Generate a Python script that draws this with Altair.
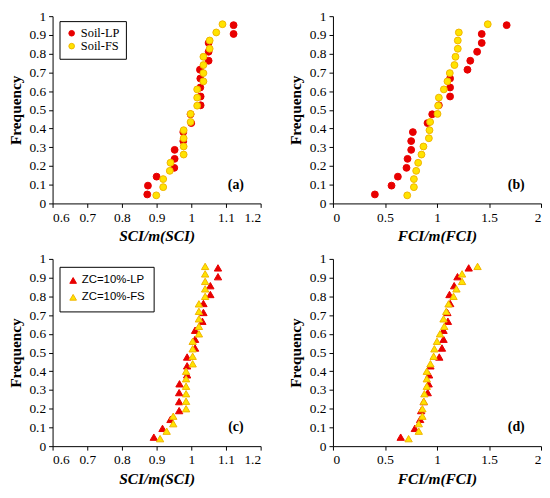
import altair as alt
import pandas as pd

# ---------------- data ----------------
freq_lp = [0.048, 0.095, 0.143, 0.190, 0.238, 0.286, 0.333, 0.381, 0.429, 0.476,
           0.524, 0.571, 0.619, 0.667, 0.714, 0.762, 0.810, 0.857, 0.905, 0.952]
freq_fs22 = [0.043, 0.087, 0.130, 0.174, 0.217, 0.261, 0.304, 0.348, 0.391, 0.435, 0.478,
             0.522, 0.565, 0.609, 0.652, 0.696, 0.739, 0.783, 0.826, 0.870, 0.913, 0.957]
freq_fs24 = [0.04, 0.08, 0.12, 0.16, 0.20, 0.24, 0.28, 0.32, 0.36, 0.40, 0.44, 0.48,
             0.52, 0.56, 0.60, 0.64, 0.68, 0.72, 0.76, 0.80, 0.84, 0.88, 0.92, 0.96]

a_lp = [0.873, 0.875, 0.900, 0.951, 0.952, 0.952, 0.977, 0.977, 1.000, 0.998,
        1.027, 1.027, 1.026, 1.026, 1.025, 1.050, 1.050, 1.050, 1.122, 1.122]
a_fs = [0.899, 0.919, 0.919, 0.938, 0.940, 0.978, 0.978, 0.978, 0.978, 0.998, 0.998,
        1.017, 1.017, 1.017, 1.035, 1.035, 1.035, 1.035, 1.053, 1.053, 1.072, 1.090]

b_lp = [0.403, 0.563, 0.624, 0.707, 0.717, 0.752, 0.752, 0.768, 0.909, 0.954,
        1.018, 1.126, 1.126, 1.126, 1.293, 1.320, 1.386, 1.430, 1.430, 1.670]
b_fs = [0.714, 0.778, 0.778, 0.800, 0.819, 0.851, 0.870, 0.922, 0.928, 0.934, 1.005,
        1.011, 1.018, 1.066, 1.101, 1.123, 1.168, 1.178, 1.200, 1.200, 1.210, 1.488]

c_lp = [0.892, 0.917, 0.940, 0.965, 0.965, 0.965, 0.966, 0.988, 0.988, 0.988,
        1.011, 1.011, 1.011, 1.032, 1.035, 1.035, 1.055, 1.055, 1.077, 1.077]
c_fs = [0.910, 0.929, 0.948, 0.948, 0.985, 0.985, 0.985, 0.985, 0.985, 0.985, 1.004, 1.004,
        1.004, 1.004, 1.022, 1.022, 1.022, 1.022, 1.022, 1.040, 1.040, 1.040, 1.040, 1.040]

d_lp = [0.651, 0.787, 0.838, 0.848, 0.873, 0.911, 0.920, 0.924, 0.937, 1.022,
        1.048, 1.063, 1.063, 1.105, 1.100, 1.127, 1.120, 1.165, 1.197, 1.305]
d_fs = [0.727, 0.825, 0.825, 0.860, 0.860, 0.873, 0.879, 0.902, 0.902, 0.902, 0.937, 0.968,
        0.975, 1.000, 1.029, 1.070, 1.063, 1.089, 1.111, 1.159, 1.187, 1.241, 1.241, 1.390]

sci_ticks = [0.6, 0.7, 0.8, 0.9, 1.0, 1.1, 1.2]
fci_ticks = [0, 0.5, 1, 1.5, 2]
freq_ticks = [0, 0.1, 0.2, 0.3, 0.4, 0.5, 0.6, 0.7, 0.8, 0.9, 1]

SERIF = "Liberation Serif"
W, H = 210, 189


def frame(xv_lp, fr_lp, xv_fs, fr_fs, names):
    d1 = pd.DataFrame({"x": xv_lp, "f": fr_lp, "s": names[0]})
    d2 = pd.DataFrame({"x": xv_fs, "f": fr_fs, "s": names[1]})
    return pd.concat([d1, d2], ignore_index=True)


def axis(values, title, italic):
    kw = dict(values=values, title=title, format="~g", grid=False,
              domainColor="black", tickColor="black", tickSize=4, domainWidth=1,
              labelFont=SERIF, labelFontSize=13.5, labelColor="black", labelPadding=3,
              titleFont=SERIF, titleFontSize=15.5, titleFontWeight="bold", titleColor="black")
    if italic:
        kw["titleFontStyle"] = "italic"
        kw["titlePadding"] = 5
    else:
        kw["titlePadding"] = 6
    return alt.Axis(**kw)


def panel(df, names, xdom, xticks, xtitle, tag, shape, show_legend, legend_font, row_pad):
    if show_legend:
        serif = legend_font == SERIF
        leg = alt.Legend(orient="none", legendX=7, legendY=5 if serif else 8, title=None,
                         strokeColor="black", fillColor="white", padding=6 if serif else 8,
                         labelFont=legend_font, labelFontSize=12.5 if serif else 11.5,
                         labelColor="black", symbolSize=32 if serif else 45,
                         rowPadding=row_pad, symbolStrokeWidth=1, labelOffset=3)
    else:
        leg = None
    pts = alt.Chart(df).mark_point(filled=True, shape=shape, size=48 if shape == "circle" else 55,
                                   strokeWidth=1, opacity=1).encode(
        x=alt.X("x:Q", scale=alt.Scale(domain=xdom, nice=False, zero=False),
                axis=axis(xticks, xtitle, True)),
        y=alt.Y("f:Q", scale=alt.Scale(domain=[0, 1], nice=False),
                axis=axis(freq_ticks, "Frequency", False)),
        color=alt.Color("s:N", scale=alt.Scale(domain=names, range=["#e80000", "#ffe300"]),
                        legend=leg),
        stroke=alt.Stroke("s:N", scale=alt.Scale(domain=names, range=["#e80000", "#f0b400"]),
                          legend=None),
        order=alt.Order("idx:Q"),
    ).transform_window(idx="row_number()")
    lab = alt.Chart(pd.DataFrame({"t": [tag]})).mark_text(
        font=SERIF, fontSize=14, fontWeight="bold", color="black"
    ).encode(text="t:N", x=alt.value(185), y=alt.value(170))
    return alt.layer(pts, lab).properties(width=W, height=H).resolve_scale(
        color="independent", stroke="independent")


n1 = ["Soil-LP", "Soil-FS"]
n2 = ["ZC=10%-LP", "ZC=10%-FS"]

pa = panel(frame(a_lp, freq_lp, a_fs, freq_fs22, n1), n1, [0.6, 1.2], sci_ticks,
           "SCI/m(SCI)", "(a)", "circle", True, SERIF, 0)
pb = panel(frame(b_lp, freq_lp, b_fs, freq_fs22, n1), n1, [0, 2], fci_ticks,
           "FCI/m(FCI)", "(b)", "circle", False, SERIF, 0)
pc = panel(frame(c_lp, freq_lp, c_fs, freq_fs24, n2), n2, [0.6, 1.2], sci_ticks,
           "SCI/m(SCI)", "(c)", "triangle-up", True, "Liberation Sans", 4)
pd_ = panel(frame(d_lp, freq_lp, d_fs, freq_fs24, n2), n2, [0, 2], fci_ticks,
            "FCI/m(FCI)", "(d)", "triangle-up", False, "Liberation Sans", 4)

top = alt.hconcat(pa, pb, spacing=27).resolve_scale(color="independent", stroke="independent")
bot = alt.hconcat(pc, pd_, spacing=27).resolve_scale(color="independent", stroke="independent")

chart = alt.vconcat(top, bot, spacing=8).resolve_scale(
    color="independent", stroke="independent"
).properties(
    padding={"left": 0, "top": -1, "right": 0, "bottom": 0},
    background="white",
).configure_view(stroke=None)

chart.save("out.html", embed_options={"renderer": "svg", "actions": False})
